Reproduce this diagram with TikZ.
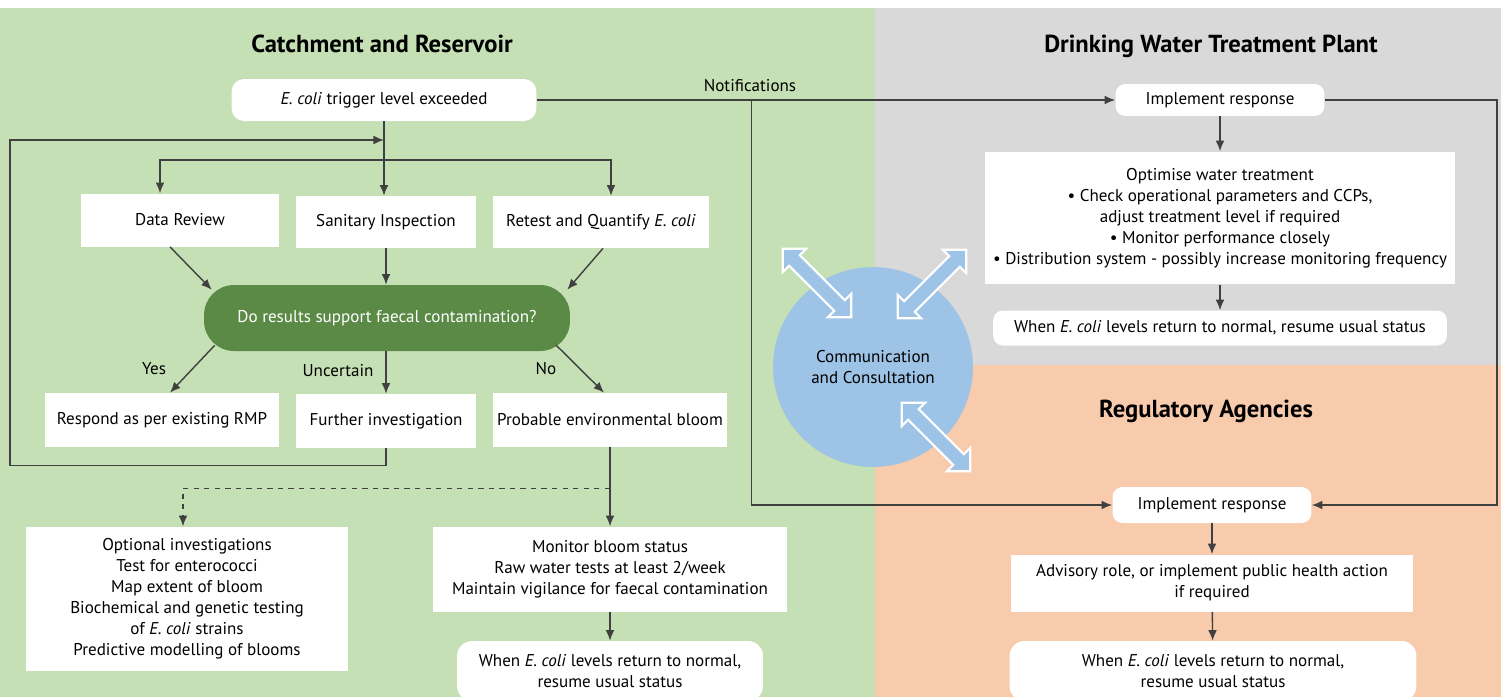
\documentclass[tikz,border=0pt]{standalone}
\usepackage{fontspec}
\setmainfont{PT Sans}
\usetikzlibrary{calc,positioning,arrows.meta,shapes.arrows}
\definecolor{catchgreen}{HTML}{C5E0B4}
\definecolor{plantgrey}{HTML}{D9D9D9}
\definecolor{agencyorange}{HTML}{F8CBAD}
\definecolor{decisiongreen}{HTML}{5B8A47}
\definecolor{commblue}{HTML}{9DC3E6}
\definecolor{linegrey}{HTML}{404040}
\newcommand{\Ecoli}{\textit{E.~coli}}
\begin{document}
\begin{tikzpicture}[
        x=0.02cm,
        y=-0.02cm,
        font=\fontsize{9.7}{12}\selectfont,
        flow/.style={draw=linegrey,line width=0.8pt,-{Latex[length=6pt,width=5pt]}},
        plainbox/.style={fill=white,align=center,inner sep=2pt},
        roundbox/.style={plainbox,rounded corners=0.25cm},
        zonetitle/.style={font=\fontsize{14}{16}\selectfont\bfseries},
        commarrow/.style={double arrow,fill=commblue,draw=white,line width=1.2pt,
            inner xsep=0pt,inner ysep=0.13cm,minimum height=1.94cm,
            double arrow head extend=0.18cm}
    ]
        \useasboundingbox (0,0) rectangle (1501,697);

        % The three zones.
        \fill[white] (0,0) rectangle (1501,697);
        \fill[catchgreen] (0,8) rectangle (875,697);
        \fill[plantgrey] (875,8) rectangle (1501,365);
        \fill[agencyorange] (875,365) rectangle (1501,697);
        \node[zonetitle] at (382,44) {Catchment and Reservoir};
        \node[zonetitle] at (1211,46) {Drinking Water Treatment Plant};
        \node[zonetitle] at (1206,411) {Regulatory Agencies};

        % Communication hub between the zones.
        \node[circle,fill=commblue,minimum size=4cm,align=center] (comm) at (873,367)
            {Communication\\and Consultation};
        \node[commarrow,rotate=-45] (arrowcatch) at (817,283) {};
        \node[commarrow,rotate=45] (arrowplant) at (932,284) {};
        \node[commarrow,rotate=-45] (arrowagency) at (936,437) {};

        % Catchment and reservoir.
        \node[roundbox,minimum width=6.1cm,minimum height=0.84cm] (trigger) at (384,100)
            {\Ecoli{} trigger level exceeded};
        \node[plainbox,minimum width=3.98cm,minimum height=1.06cm] (datareview) at (180,220)
            {Data Review};
        \node[plainbox,minimum width=3.6cm,minimum height=1.04cm] (sanitary) at (386,222)
            {Sanitary Inspection};
        \node[plainbox,minimum width=4.32cm,minimum height=1.04cm] (retest) at (601,222)
            {Retest and Quantify \Ecoli};
        \node[fill=decisiongreen,text=white,rounded corners=0.6cm,
            minimum width=7.32cm,minimum height=1.32cm] (decision) at (387,318)
            {Do results support faecal contamination?};
        \node[plainbox,minimum width=4.7cm,minimum height=1.08cm] (respond) at (162,420)
            {Respond as per existing RMP};
        \node[plainbox,minimum width=3.6cm,minimum height=1.08cm] (further) at (386,421)
            {Further investigation};
        \node[plainbox,minimum width=4.68cm,minimum height=1.08cm] (probable) at (610,420)
            {Probable environmental bloom};
        \node[plainbox,minimum width=6.44cm,minimum height=2.9cm] (optional) at (187,599)
            {Optional investigations\\Test for enterococci\\Map extent of bloom\\
             Biochemical and genetic testing\\of \Ecoli{} strains\\Predictive modelling of blooms};
        \node[plainbox,minimum width=7.08cm,minimum height=1.7cm] (monitor) at (610,569)
            {Monitor bloom status\\Raw water tests at least 2/week\\
             Maintain vigilance for faecal contamination};
        \node[roundbox,rounded corners=0.3cm,minimum width=6.12cm,minimum height=1.2cm]
            (whenbloom) at (610,671)
            {When \Ecoli{} levels return to normal,\\resume usual status};

        \coordinate (split) at (384,160);
        \coordinate (loopin) at (384,140);
        \draw[draw=linegrey,line width=0.8pt] (trigger.south) -- (split);
        \draw[flow] (split) -| ($(datareview.north)+(-20,0)$);
        \draw[flow] (split) -- (split |- sanitary.north);
        \draw[flow] (split) -| ($(retest.north)+(10,0)$);
        \draw[flow] ($(datareview.south)+(-10,0)$) -- ($(decision.north west)+(8,5)$);
        \draw[flow] (sanitary.south) -- (sanitary.south |- decision.north);
        \draw[flow] ($(retest.south)+(2,0)$) -- ($(decision.north east)+(-3,5)$);
        \draw[flow] ($(decision.south west)+(11,-6)$) -- ($(respond.north)+(8,0)$);
        \draw[flow] (further.north |- decision.south) -- (further.north);
        \draw[flow] ($(decision.south east)+(-14,-6)$) -- ($(probable.north)+(-6,0)$);
        \node at (154,369) {Yes};
        \node at (338,371) {Uncertain};
        \node at (546,369) {No};
        \draw[flow] (further.south) -- ++(0,17) -| (10,140) -- (loopin);
        \coordinate (dashfork) at ($(probable.south)+(0,41)$);
        \draw[flow] (probable.south) -- (monitor.north);
        \draw[flow,dashed] (dashfork) -| ($(optional.north)+(-4,0)$);
        \draw[flow] (monitor) -- (whenbloom);

        % Drinking water treatment plant.
        \node[roundbox,rounded corners=0.2cm,minimum width=4.18cm,minimum height=0.64cm]
            (plantresponse) at (1220,100) {Implement response};
        \node[plainbox,minimum width=9.4cm,minimum height=2.66cm] (optimise) at (1220,218)
            {Optimise water treatment\\
             \textbullet{} Check operational parameters and CCPs,\\
             adjust treatment level if required\\
             \textbullet{} Monitor performance closely\\
             \textbullet{} Distribution system - possibly increase monitoring frequency};
        \node[roundbox,rounded corners=0.2cm,minimum width=9.08cm,minimum height=0.7cm]
            (whenplant) at (1220,328)
            {When \Ecoli{} levels return to normal, resume usual status};
        \draw[flow] (plantresponse) -- (optimise);
        \draw[flow] (optimise) -- (whenplant);

        % Regulatory agencies.
        \node[roundbox,rounded corners=0.2cm,minimum width=3.98cm,minimum height=0.72cm]
            (agencyresponse) at (1212,505) {Implement response};
        \node[plainbox,minimum width=8.06cm,minimum height=1.14cm] (advisory) at (1212,583)
            {Advisory role, or implement public health action\\if required};
        \node[roundbox,rounded corners=0.3cm,minimum width=8.14cm,minimum height=1.2cm]
            (whenagency) at (1213,671)
            {When \Ecoli{} levels return to normal,\\resume usual status};
        \draw[flow] (agencyresponse) -- (advisory);
        \draw[flow] (advisory) -- (whenagency);

        % Notifications to the other zones.
        \coordinate (notif) at ($(trigger.east)!0.371!(plantresponse.west)$);
        \draw[flow] (trigger.east) -- (plantresponse.west);
        \node at (750,86) {Notifications};
        \draw[flow] (notif) |- (agencyresponse.west);
        \draw[flow] (plantresponse.east) -- ++(172,0) |- (agencyresponse.east);
    \end{tikzpicture}
\end{document}
